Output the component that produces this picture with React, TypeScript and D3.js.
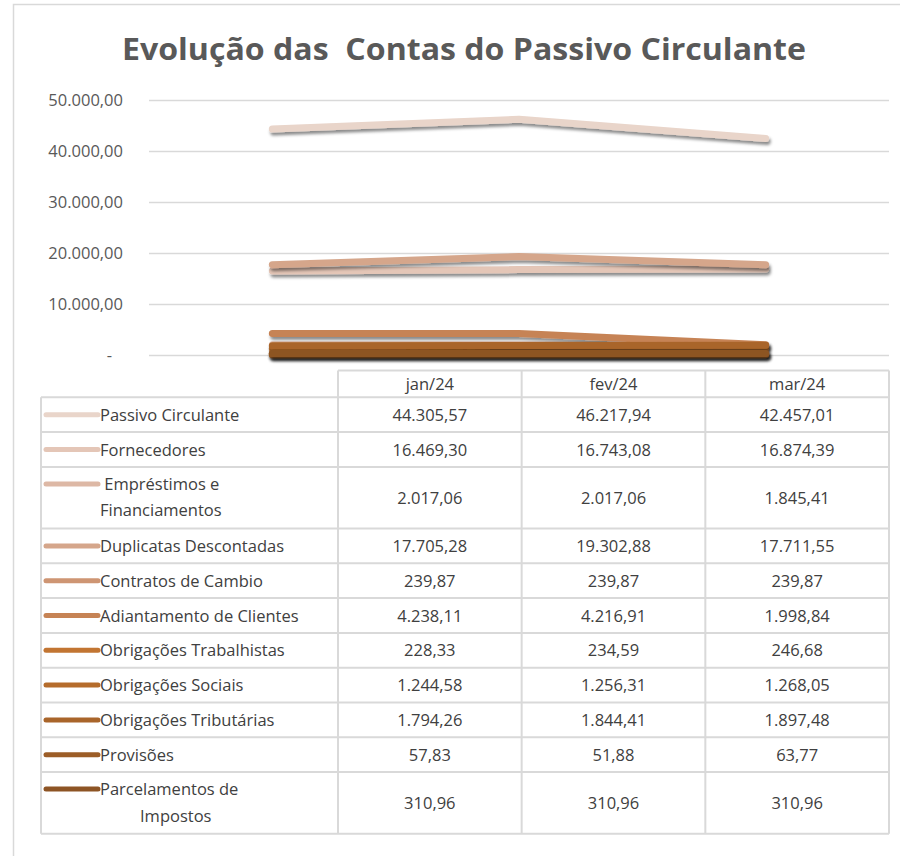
import React, { useEffect, useRef } from 'react'
import * as d3 from 'd3'

const months = ['jan/24', 'fev/24', 'mar/24']
const accounts = [
  'Passivo Circulante',
  'Fornecedores',
  ' Empréstimos e\nFinanciamentos',
  'Duplicatas Descontadas',
  'Contratos de Cambio',
  'Adiantamento de Clientes',
  'Obrigações Trabalhistas',
  'Obrigações Sociais',
  'Obrigações Tributárias',
  'Provisões',
  'Parcelamentos de\nImpostos',
]
const jan = [44305.57, 16469.3, 2017.06, 17705.28, 239.87, 4238.11, 228.33, 1244.58, 1794.26, 57.83, 310.96]
const fev = [46217.94, 16743.08, 2017.06, 19302.88, 239.87, 4216.91, 234.59, 1256.31, 1844.41, 51.88, 310.96]
const mar = [42457.01, 16874.39, 1845.41, 17711.55, 239.87, 1998.84, 246.68, 1268.05, 1897.48, 63.77, 310.96]
const yTicks = [0, 10000, 20000, 30000, 40000, 50000]

const palette = ['#e9d5ca', '#e4c6b7', '#ddb8a5', '#d5a68b', '#ce9573', '#c68355', '#c27532', '#b56c2b', '#a9652a', '#9c5d27', '#8d5424']

const W = 900
const H = 856
const FONT = "'Open Sans', 'Noto Sans', sans-serif"
const GRID = '#d9d9d9'

const ptBR = d3.formatLocale({ decimal: ',', thousands: '.', grouping: [3], currency: ['R$', ''] })
const fmt = ptBR.format(',.2f')

export default function App() {
  const ref = useRef<SVGSVGElement>(null)

  useEffect(() => {
    const svg = d3.select(ref.current)
    svg.selectAll('*').remove()

    const defs = svg.append('defs')
    // userSpaceOnUse: as linhas quase retas têm bbox de altura ~0
    const f = defs.append('filter').attr('id', 'sombra').attr('filterUnits', 'userSpaceOnUse')
      .attr('x', 0).attr('y', 0).attr('width', W).attr('height', H)
    f.append('feDropShadow').attr('dx', 1.5).attr('dy', 3).attr('stdDeviation', 1.6)
      .attr('flood-color', '#000').attr('flood-opacity', 0.45)

    svg.append('rect').attr('width', W).attr('height', H).attr('fill', '#fff')
    // moldura do gráfico (cortada à direita/embaixo)
    svg.append('path').attr('d', 'M13.5,856 L13.5,4.5 L900,4.5').attr('fill', 'none')
      .attr('stroke', GRID).attr('stroke-width', 1.5)

    svg.append('text').text('Evolução das  Contas do Passivo Circulante')
      .attr('x', 464).attr('y', 60).attr('text-anchor', 'middle')
      .attr('font-family', FONT).attr('font-weight', 700).attr('font-size', 30)
      .attr('textLength', 684).attr('lengthAdjust', 'spacingAndGlyphs')
      .attr('fill', '#595959').style('white-space', 'pre')

    const x = d3.scalePoint<string>().domain(months).range([149, 889]).padding(0.5)
    const y = d3.scaleLinear().domain([0, 50000]).range([355, 100])

    const gAxis = svg.append('g').attr('transform', 'translate(149,0)')
      .call(d3.axisLeft(y).tickValues(yTicks).tickSize(-740).tickPadding(26)
        .tickFormat((d) => (+d === 0 ? '-' : fmt(+d))))
    gAxis.select('.domain').remove()
    gAxis.selectAll('.tick line').attr('stroke', GRID).attr('stroke-width', 1.5)
    gAxis.selectAll('.tick text').attr('font-family', FONT).attr('font-size', 16.5)
      .attr('fill', '#595959')
      .attr('dx', (d: any) => (d === 0 ? -11 : 0))

    const series = accounts.map((name, i) => ({ name, i, values: [jan[i], fev[i], mar[i]] }))
    const line = d3.line<number>().x((_, j) => x(months[j])!).y((v) => y(v))

    svg.append('g').selectAll('path').data(series).join('path')
      .attr('d', (s) => line(s.values))
      .attr('fill', 'none').attr('stroke', (s) => palette[s.i])
      .attr('stroke-width', 7).attr('stroke-linecap', 'round').attr('stroke-linejoin', 'round')
      .attr('filter', 'url(#sombra)')

    // tabela de dados
    const tLeft = 41, tLab = 338, tRight = 889
    const colW = (tRight - tLab) / months.length
    const headTop = 370.5, headBot = 397.3
    const single = 34.8, double = 61.6
    const rows: { name: string; i: number; top: number; h: number }[] = []
    let yy = headBot
    accounts.forEach((name, i) => {
      const h = name.includes('\n') ? double : single
      rows.push({ name, i, top: yy, h })
      yy += h
    })
    const tBot = yy
    const t = svg.append('g').attr('font-family', FONT).attr('fill', '#404040').attr('font-size', 16.5)

    t.append('line').attr('x1', tLab).attr('x2', tRight).attr('y1', headTop).attr('y2', headTop)
    ;[headBot, ...rows.map((r) => r.top + r.h)].forEach((v) => {
      t.append('line').attr('x1', tLeft).attr('x2', tRight).attr('y1', v).attr('y2', v)
    })
    t.append('line').attr('x1', tLeft).attr('x2', tLeft).attr('y1', headBot).attr('y2', tBot)
    d3.range(months.length + 1).forEach((k) => {
      t.append('line').attr('x1', tLab + k * colW).attr('x2', tLab + k * colW).attr('y1', headTop).attr('y2', tBot)
    })
    t.selectAll('line').attr('stroke', GRID).attr('stroke-width', 2)

    months.forEach((m, k) => {
      t.append('text').text(m).attr('x', tLab + (k + 0.5) * colW).attr('y', (headTop + headBot) / 2 + 6)
        .attr('text-anchor', 'middle')
    })

    rows.forEach((r) => {
      const lines = r.name.split('\n')
      const firstMid = lines.length > 1 ? r.top + 17 : r.top + r.h / 2
      t.append('line').attr('x1', 46).attr('x2', 98).attr('y1', firstMid).attr('y2', firstMid)
        .attr('stroke', palette[r.i]).attr('stroke-width', 5).attr('stroke-linecap', 'round')
      lines.forEach((ln, j) => {
        const isLast = r.i === accounts.length - 1 && j === 1
        t.append('text').text(ln).style('white-space', 'pre')
          .attr('x', isLast ? 140 : 100).attr('y', firstMid + 6 + j * 26.5)
      })
      const vals = [jan[r.i], fev[r.i], mar[r.i]]
      vals.forEach((v, k) => {
        t.append('text').text(fmt(v)).attr('x', tLab + (k + 0.5) * colW).attr('y', r.top + r.h / 2 + 6)
          .attr('text-anchor', 'middle')
      })
    })
  }, [])

  return (
    <div style={{ position: 'absolute', left: 0, top: 0 }}>
      <svg ref={ref} width={W} height={H} style={{ display: 'block' }} />
    </div>
  )
}
